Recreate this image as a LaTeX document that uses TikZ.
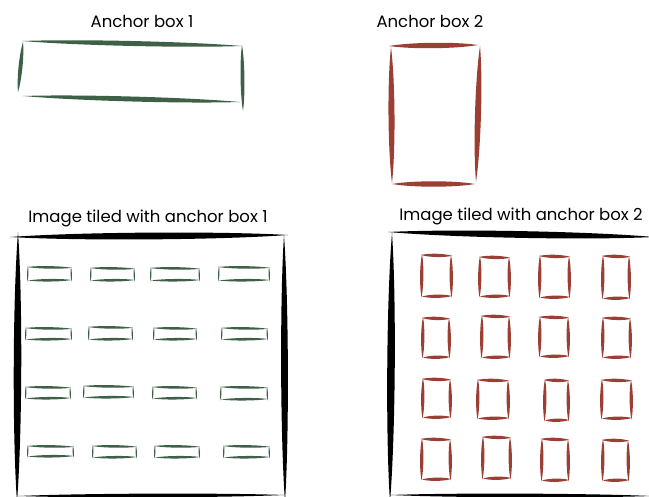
\documentclass[tikz,border=0pt]{standalone}
\usepackage{fontspec}
\setmainfont{Poppins}
\usetikzlibrary{calc}
\definecolor{anchorgreen}{RGB}{62,96,70}
\definecolor{anchorred}{RGB}{155,62,52}
% tapered brush stroke: colour, start, end, half width
\newcommand\brushstroke[4]{%
  \fill[#1] (#2) .. controls ($(#2)!0.25!(#3)!#4!90:(#3)$) and ($(#2)!0.75!(#3)!#4!90:(#3)$) .. (#3)
    .. controls ($(#3)!0.25!(#2)!#4!90:(#2)$) and ($(#3)!0.75!(#2)!#4!90:(#2)$) .. cycle;}
% hand drawn box: colour, x1, y1, x2, y2, half width (sides), half width (ends)
\newcommand\brushbox[7]{%
  \brushstroke{#1}{#2-1,#3}{#4+1,#3+0.8}{#6}
  \brushstroke{#1}{#2,#5+0.5}{#4+1,#5}{#6}
  \brushstroke{#1}{#2,#3-1}{#2-0.5,#5+1.5}{#7}
  \brushstroke{#1}{#4,#3}{#4+0.5,#5+1.5}{#7}}
\begin{document}
\begin{tikzpicture}[x=1pt, y=-1pt,
    title/.style={font=\fontsize{16.5}{18}\selectfont, inner sep=0pt}]
  \useasboundingbox (0,0) rectangle (649,497);
  % Titles
  \node[title] (anchor1) at (142,21) {Anchor box 1};
  \node[title] (anchor2) at (430,21) {Anchor box 2};
  \node[title] (tiled1) at (148,218) {Image tiled with anchor box 1};
  \node[title] (tiled2) at (521,216) {Image tiled with anchor box 2};
  % Anchor boxes
  \brushstroke{anchorgreen}{22,41}{242,46}{3.3pt}
  \brushstroke{anchorgreen}{23,96}{240,102}{3.3pt}
  \brushstroke{anchorgreen}{23,42}{18,92}{2.6pt}
  \brushstroke{anchorgreen}{242,45}{243,111}{2.6pt}
  \brushstroke{anchorred}{389,46}{478,45}{3.6pt}
  \brushstroke{anchorred}{392,184}{475,184}{3.6pt}
  \brushstroke{anchorred}{391,47}{392,183}{4pt}
  \brushstroke{anchorred}{480,46}{476,182}{4pt}
  % Image frames
  \brushstroke{black}{10,237}{288,235}{4.5pt}
  \brushstroke{black}{18,232}{17,502}{5pt}
  \brushstroke{black}{284,235}{285,502}{4.5pt}
  \brushstroke{black}{18,496}{285,495}{2.5pt}
  \brushstroke{black}{388,232}{654,237}{4.5pt}
  \brushstroke{black}{392,233}{390,502}{5pt}
  \brushstroke{black}{390,495}{652,496}{2.5pt}
  % Tiles
  \foreach \xa/\ya/\xb/\yb in {28/267/71/280, 91/268/134/280, 151/268/199/280, 219/267/269/280,
      26/328/71/339, 89/327/132/339, 154/328/196/339, 222/328/267/339,
      26/387/70/398, 84/386/133/397, 153/387/196/398, 221/387/267/399,
      28/446/73/456, 93/446/136/457, 155/446/199/457, 224/446/269/457} {
    \brushbox{anchorgreen}{\xa}{\ya}{\xb}{\yb}{1.7pt}{0.9pt}
  }
  \foreach \xa/\ya/\xb/\yb in {422/255/451/296, 480/257/509/296, 540/256/569/297, 603/256/629/298,
      423/318/449/357, 482/316/509/357, 540/317/568/356, 603/318/630/357,
      423/379/450/417, 478/380/508/418, 545/380/568/420, 602/380/631/418,
      422/439/450/479, 483/437/510/478, 542/439/568/480, 603/440/628/480} {
    \brushbox{anchorred}{\xa}{\ya}{\xb}{\yb}{2.2pt}{2.2pt}
  }
\end{tikzpicture}
\end{document}
